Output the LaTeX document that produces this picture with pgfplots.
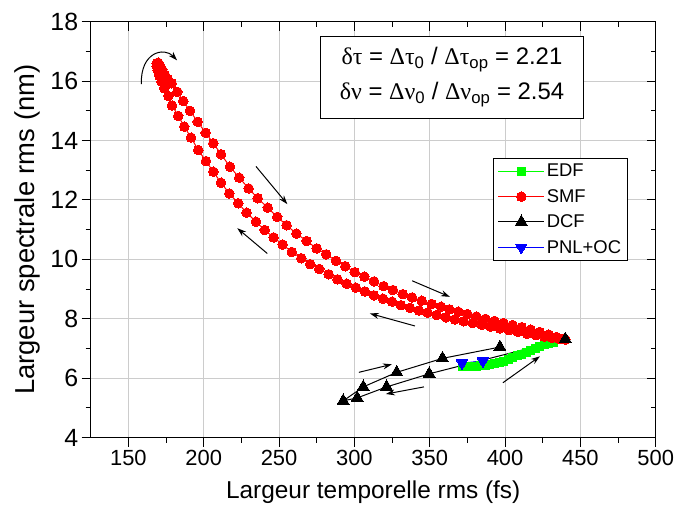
\documentclass[border=0pt]{standalone}
\usepackage{pgfplots}
\pgfplotsset{compat=1.18}
\usepackage{fontspec}
\setmainfont{Liberation Sans}
\newfontfamily\grk{Liberation Serif}
\usetikzlibrary{arrows.meta}
\definecolor{edfgreen}{RGB}{0,255,0}
\begin{document}
\begin{tikzpicture}
\pgfplotsset{
  myframe/.style={scale only axis, width=565bp, height=416bp, xmin=125, xmax=500, ymin=4, ymax=18, at={(0,0)}, anchor=south west},
}
\begin{axis}[myframe,
  axis line style={line width=1bp},
  xtick={150,200,...,500}, ytick={4,6,...,18},
  minor x tick num=1, minor y tick num=1,
  xtick pos=left, ytick pos=left, tick align=outside,
  major tick length=9bp, minor tick length=5bp,
  every tick/.style={black, line width=1bp},
  grid=major, major grid style={color=black!20, line width=1bp},
  /pgf/number format/assume math mode=true,
  xticklabel style={font=\fontsize{22}{22}\selectfont},
  yticklabel style={font=\fontsize{25}{25}\selectfont},
  xlabel={Largeur temporelle rms (fs)}, ylabel={Largeur spectrale rms (nm)},
  xlabel style={font=\fontsize{24.5}{24.5}\selectfont, at={(axis description cs:0.5,-0.132)}, anchor=center},
  ylabel style={font=\fontsize{27.5}{27.5}\selectfont, at={(axis description cs:-0.112,0.5)}, anchor=center},
  legend image code/.code={\draw[line width=1bp] (0bp,0bp) -- (46bp,0bp);
     \draw[mark repeat=2,mark phase=2] plot coordinates {(0bp,0bp)(23bp,0bp)(46bp,0bp)};},
  legend style={at={(rel axis cs:0.7126,0.6716)}, anchor=north west, draw=black, line width=1bp,
    font=\fontsize{18.5}{18.5}\selectfont, inner xsep=4bp, inner ysep=3.5bp, row sep=7bp, cells={anchor=west}},
]
% EDF
\addplot[color=edfgreen, line width=1bp, mark=square*, mark size=4bp, mark options={draw=edfgreen, fill=edfgreen, line width=0bp}] coordinates {
(372,6.40)(375,6.40)(378,6.40)(381,6.41)(384,6.42)(387,6.44)(390,6.46)(393,6.49)(396,6.53)(399,6.58)(402,6.63)(405,6.69)(408,6.75)(411,6.81)(414,6.88)(417,6.94)(420,7.00)(423,7.06)(426,7.12)(429,7.17)(432,7.22)
};
\addlegendentry{EDF}
% SMF
\addplot[color=red, line width=1bp, mark=*, mark size=4.8bp, mark options={draw=red, fill=red, line width=0bp}] coordinates {
(440,7.30)(436,7.32)(431,7.36)(426,7.40)(420.5,7.45)(414.5,7.50)(408.5,7.56)(402.5,7.62)(396.5,7.68)(390.5,7.74)(384.5,7.80)(378.5,7.86)(372.5,7.92)(366.7,7.98)(360.8,8.05)(354.6,8.13)(348.6,8.21)(342.9,8.28)(336.9,8.37)(330.9,8.46)(325,8.58)(319,8.68)(313,8.79)(307,8.92)(301,9.05)(294.9,9.18)(288.8,9.33)(282.9,9.50)(276.7,9.68)(270.7,9.84)(264.8,10.04)(258.5,10.25)(252.4,10.50)(246.4,10.74)(240.5,10.99)(234.7,11.27)(228.5,11.57)(222.9,11.89)(217.0,12.22)(211.5,12.58)(206.4,12.95)(201.5,13.31)(196.4,13.68)(191.6,14.10)(187.1,14.47)(183.1,14.83)(179.0,15.18)(176.6,15.50)(173.8,15.76)(172.0,15.98)(170.6,16.18)(169.5,16.36)(168.8,16.50)(168.8,16.60)(169.8,16.62)(171.0,16.52)(172.5,16.38)(174.2,16.22)(176.2,16.07)(178.7,15.93)
(182.5,15.64)(186.4,15.33)(190.9,15.00)(196.0,14.63)(201.3,14.26)(206.4,13.91)(211.5,13.54)(217.4,13.12)(223.6,12.75)(229.8,12.39)(235.8,12.06)(242.5,11.74)(248.8,11.43)(255.0,11.15)(261.5,10.87)(268.3,10.62)(275.0,10.37)(281.3,10.17)(287.8,9.95)(294.0,9.77)(300.2,9.57)(306.6,9.42)(313.1,9.26)(319.4,9.10)(325.6,8.97)(332.1,8.83)(338.3,8.72)(344.7,8.61)(351.3,8.50)(357.5,8.41)(363,8.32)(369,8.24)(375,8.16)(381,8.08)(387,8.00)(393,7.93)(399,7.86)(405,7.79)(411,7.72)(417,7.64)(423,7.56)(429,7.47)(434,7.39)(438,7.32)
};
\addlegendentry{SMF}
% DCF
\addplot[color=black, line width=1bp, mark=triangle*, mark size=7bp, mark options={draw=black, fill=black, line width=0bp}] coordinates {
(440,7.32)(349.7,6.15)(321.4,5.71)(301.9,5.34)(292.6,5.24)(305.9,5.71)(328.1,6.20)(358.5,6.67)(396.6,7.05)
};
\addlegendentry{DCF}
% PNL+OC
\addplot[color=blue, line width=1bp, mark=triangle*, mark size=6.5bp, mark options={rotate=180, draw=blue, fill=blue, line width=0bp}] coordinates {
(385.3,6.58)(371.4,6.51)
};
\addlegendentry{PNL+OC}
% arrows
\draw[-{Stealth[length=9bp,width=6bp]}, line width=1bp] (axis cs:158.6,15.9) .. controls (axis cs:158,17.0) and (axis cs:174,17.15) .. (axis cs:182.3,16.7);
\draw[-{Stealth[length=9bp,width=6bp]}, line width=1bp] (axis cs:234.7,13.13) -- (axis cs:255.5,11.86);
\draw[-{Stealth[length=9bp,width=6bp]}, line width=1bp] (axis cs:242.2,10.20) -- (axis cs:222.3,11.05);
\draw[-{Stealth[length=9bp,width=6bp]}, line width=1bp] (axis cs:338.4,9.28) -- (axis cs:363.4,8.74);
\draw[-{Stealth[length=9bp,width=6bp]}, line width=1bp] (axis cs:340.2,7.76) -- (axis cs:310.3,8.18);
\draw[-{Stealth[length=9bp,width=6bp]}, line width=1bp] (axis cs:303.0,6.20) -- (axis cs:324.9,6.47);
\draw[-{Stealth[length=9bp,width=6bp]}, line width=1bp] (axis cs:346.2,5.71) -- (axis cs:320.9,5.47);
\draw[-{Stealth[length=9bp,width=6bp]}, line width=1bp] (axis cs:398.6,5.85) -- (axis cs:423.2,6.74);
% annotation box
\node[draw=black, fill=white, line width=1bp, anchor=north west, minimum width=263bp, minimum height=82bp, align=center, inner sep=0pt,
  font=\fontsize{24}{35}\selectfont] at (rel axis cs:0.4058,0.9663)
  {{\grk δτ} = {\grk Δτ}\textsubscript{0} / {\grk Δτ}\textsubscript{op} = 2.21\\
   {\grk δν} = {\grk Δν}\textsubscript{0} / {\grk Δν}\textsubscript{op} = 2.54};
\end{axis}
\begin{axis}[myframe, axis line style={line width=1bp},
  xtick={150,200,...,500}, ytick={4,6,...,18},
  minor x tick num=1, minor y tick num=1,
  xtick pos=right, ytick pos=right, tick align=inside,
  major tick length=9bp, minor tick length=5bp,
  every tick/.style={black, line width=1bp},
  xticklabels={}, yticklabels={}]
\end{axis}
\path[use as bounding box] (-90.7bp,-82.3bp) rectangle (587.3bp,437.7bp);
\end{tikzpicture}
\end{document}
